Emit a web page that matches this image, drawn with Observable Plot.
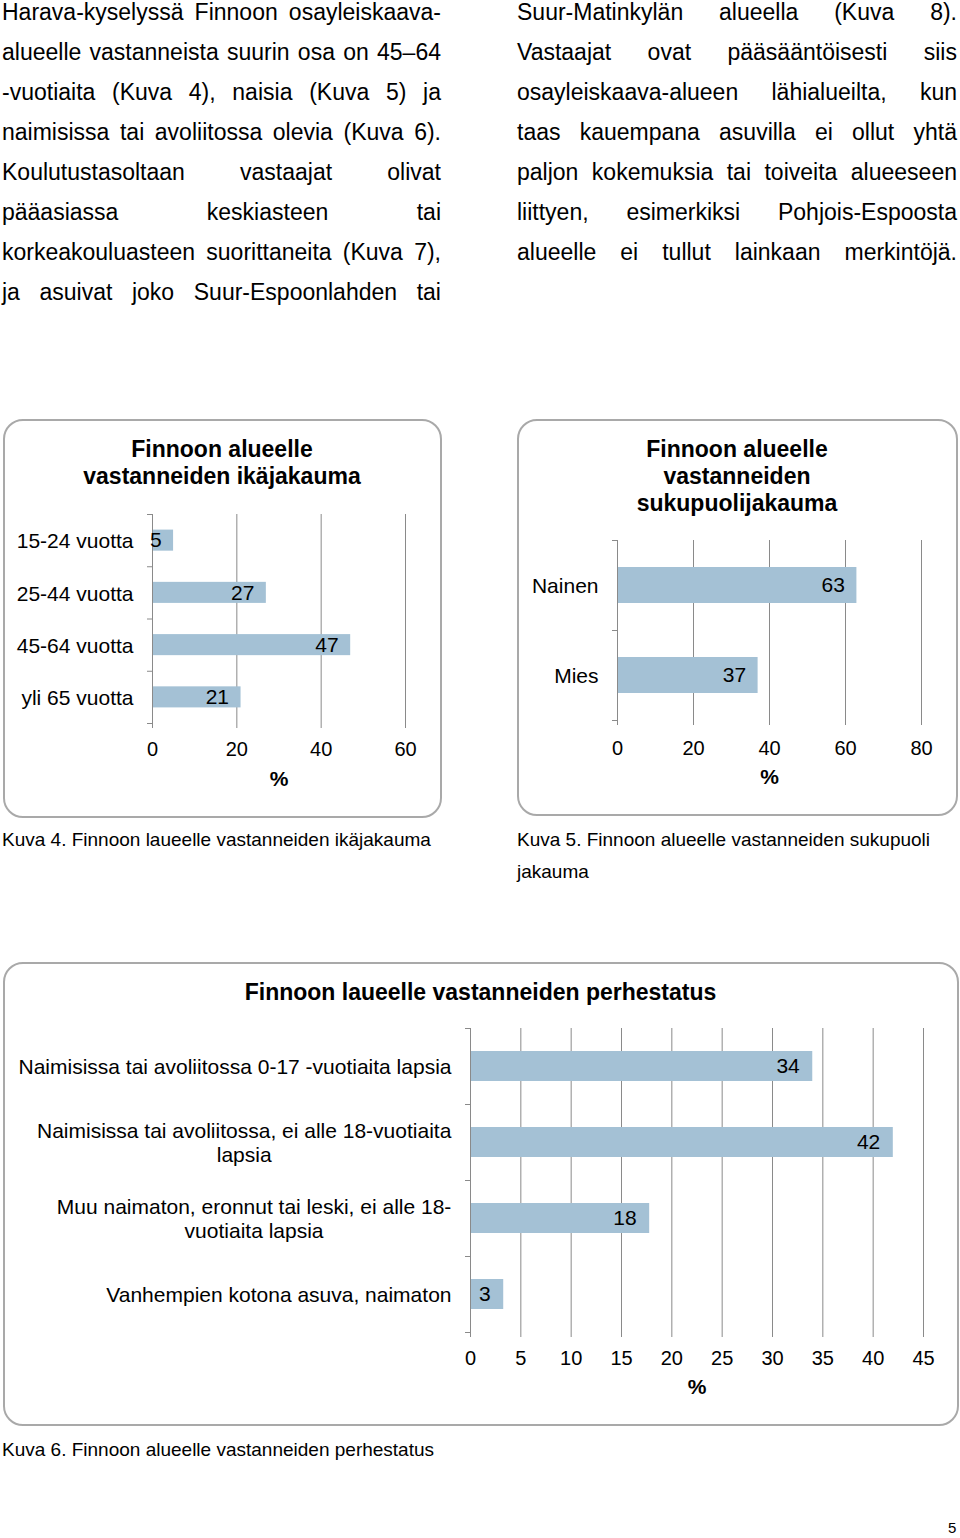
<!DOCTYPE html>
<html><head><meta charset="utf-8">
<script src="https://cdn.jsdelivr.net/npm/d3@7"></script>
<script src="https://cdn.jsdelivr.net/npm/@observablehq/plot@0.6"></script>
<style>
body{margin:0;background:#fff;font-family:"Liberation Sans",Arial,sans-serif;color:#000;}
#page{position:relative;width:960px;height:1538px;overflow:hidden;background:#fff;}
.line{position:absolute;font-size:23px;white-space:nowrap;height:26px;line-height:26px;display:flex;justify-content:space-between;}
.box{position:absolute;border:2px solid #a9a9a9;border-radius:20px;box-sizing:border-box;}
.ctitle{position:absolute;font-weight:bold;font-size:23px;text-align:center;line-height:27px;}
.cap{position:absolute;font-size:19px;line-height:32px;white-space:nowrap;}
.chart{position:absolute;}
.pnum{position:absolute;font-size:15px;line-height:18px;}
</style></head>
<body><div id="page"></div>
<script>
// ---- text content ----
const leftLines = [
  "Harava-kyselyssä Finnoon osayleiskaava-",
  "alueelle vastanneista suurin osa on 45–64",
  "-vuotiaita (Kuva 4), naisia (Kuva 5) ja",
  "naimisissa tai avoliitossa olevia (Kuva 6).",
  "Koulutustasoltaan vastaajat olivat",
  "pääasiassa keskiasteen tai",
  "korkeakouluasteen suorittaneita (Kuva 7),",
  "ja asuivat joko Suur-Espoonlahden tai"
];
const rightLines = [
  "Suur-Matinkylän alueella (Kuva 8).",
  "Vastaajat ovat pääsääntöisesti siis",
  "osayleiskaava-alueen lähialueilta, kun",
  "taas kauempana asuvilla ei ollut yhtä",
  "paljon kokemuksia tai toiveita alueeseen",
  "liittyen, esimerkiksi Pohjois-Espoosta",
  "alueelle ei tullut lainkaan merkintöjä."
];

// ---- chart data ----
const ageTitle = "Finnoon alueelle<br>vastanneiden ikäjakauma";
const ageCats = ["15-24 vuotta", "25-44 vuotta", "45-64 vuotta", "yli 65 vuotta"];
const ageVals = [5, 27, 47, 21];
const ageTicks = [0, 20, 40, 60];
const ageCaption = "Kuva 4. Finnoon laueelle vastanneiden ikäjakauma";

const sexTitle = "Finnoon alueelle<br>vastanneiden<br>sukupuolijakauma";
const sexCats = ["Nainen", "Mies"];
const sexVals = [63, 37];
const sexTicks = [0, 20, 40, 60, 80];
const sexCaption = "Kuva 5. Finnoon alueelle vastanneiden sukupuoli<br>jakauma";

const famTitle = "Finnoon laueelle vastanneiden perhestatus";
const famCats = [
  "Naimisissa tai avoliitossa 0-17 -vuotiaita lapsia",
  "Naimisissa tai avoliitossa, ei alle 18-vuotiaita\nlapsia",
  "Muu naimaton, eronnut tai leski, ei alle 18-\nvuotiaita lapsia",
  "Vanhempien kotona asuva, naimaton"
];
const famVals = [34, 42, 17.8, 3.3];
const famTicks = [0, 5, 10, 15, 20, 25, 30, 35, 40, 45];
const famCaption = "Kuva 6. Finnoon alueelle vastanneiden perhestatus";

const axisTitle = "%";
const pageNumber = "5";

// ---- page ----
const page = document.getElementById("page");
function el(cls, css, html) {
  const d = document.createElement("div");
  d.className = cls;
  Object.assign(d.style, css);
  if (html != null) d.innerHTML = html;
  page.appendChild(d);
  return d;
}
function justifiedLines(lines, left, width) {
  lines.forEach((ln, i) => {
    const d = el("line", {left: left + "px", top: (i * 40 - 1) + "px", width: width + "px"});
    ln.split(" ").forEach(w => { const s = document.createElement("span"); s.textContent = w; d.appendChild(s); });
  });
}
justifiedLines(leftLines, 2, 439);
justifiedLines(rightLines, 517, 440);

el("box", {left: "3px", top: "419px", width: "439px", height: "399px"});
el("box", {left: "517px", top: "419px", width: "441px", height: "397px"});
el("box", {left: "3px", top: "962px", width: "956px", height: "464px"});

el("ctitle", {left: "3px", top: "436px", width: "438px"}, ageTitle);
el("ctitle", {left: "517px", top: "436px", width: "440px"}, sexTitle);
el("ctitle", {left: "3px", top: "979px", width: "955px"}, famTitle);

el("cap", {left: "2px", top: "824px"}, ageCaption);
el("cap", {left: "517px", top: "824px"}, sexCaption);
el("cap", {left: "2px", top: "1434px"}, famCaption);
el("pnum", {left: "948px", top: "1519px"}, pageNumber);

const GRID = "#8a8a8a";
const BAR = "#a4c1d5";

function hbar(o) {
  const n = o.cats.length;
  const data = o.cats.map((c, i) => ({c, v: o.vals[i], i}));
  return Plot.plot({
    width: o.width, height: o.height,
    marginLeft: o.ml, marginRight: o.mr, marginTop: o.mt, marginBottom: o.mb,
    style: {background: "none", fontFamily: "'Liberation Sans', Arial, sans-serif", fontSize: "20px", color: "#000", overflow: "visible"},
    x: {type: "linear", domain: [0, o.xMax]},
    y: {type: "linear", domain: [0, n], reverse: true},
    marks: [
      Plot.gridX(o.ticks, {stroke: GRID, strokeOpacity: 1, strokeWidth: 1}),
      Plot.axisX({ticks: o.ticks, tickSize: 5, tickPadding: o.xPad, stroke: GRID, strokeOpacity: 1, fontSize: 20, label: null, tickFormat: d => String(d)}),
      Plot.rectX(data, {x1: 0, x2: "v", y1: "i", y2: d => d.i + 1, insetTop: o.inset, insetBottom: o.inset, fill: BAR}),
      Plot.ruleX([0], {stroke: GRID, strokeWidth: 1}),
      Plot.axisY({ticks: d3.range(n + 1), tickSize: 5, tickFormat: () => "", stroke: GRID, strokeOpacity: 1, label: null}),
      Plot.axisY({ticks: d3.range(n).map(i => i + 0.5), tickSize: 0, tickPadding: 19, tickFormat: t => o.cats[Math.floor(t)], fontSize: 21, lineHeight: 1.15, label: null}),
      Plot.text(data, {x: "v", y: d => d.i + 0.5, text: d => String(Math.round(d.v)), textAnchor: "end", dx: o.labelDx, fontSize: 21, fill: "#000"}),
      Plot.text([axisTitle], {frameAnchor: "bottom", lineAnchor: "middle", dy: o.pctDy, fontWeight: "bold", fontSize: 21, fill: "#000"})
    ]
  });
}

function place(svg, left, top) {
  const wrap = el("chart", {left: left + "px", top: top + "px"});
  wrap.appendChild(svg);
  return svg;
}

place(hbar({cats: ageCats, vals: ageVals, ticks: ageTicks, xMax: 60,
  width: 445, height: 300, ml: 152, mr: 40, mt: 14, mb: 77, inset: 15.6, xPad: 13, labelDx: -12, pctDy: 56}), 0, 500);

place(hbar({cats: sexCats, vals: sexVals, ticks: sexTicks, xMax: 80,
  width: 440, height: 270, ml: 100, mr: 36, mt: 10, mb: 80, inset: 27, xPad: 15, labelDx: -12, pctDy: 57}), 517, 530);

const svg3 = place(hbar({cats: famCats, vals: famVals, ticks: famTicks, xMax: 45,
  width: 955, height: 400, ml: 467, mr: 35, mt: 8, mb: 88, inset: 23, xPad: 13, labelDx: -13, pctDy: 55}), 3, 1020);

// centre each line of wrapped category labels, as in the original
svg3.querySelectorAll("text").forEach(t => {
  const ts = t.querySelectorAll("tspan");
  if (ts.length > 1) {
    const w = t.getBBox().width;
    const ax = parseFloat(ts[0].getAttribute("x") ?? t.getAttribute("x") ?? 0) || 0;
    t.setAttribute("text-anchor", "middle");
    ts.forEach(s => s.setAttribute("x", ax - w / 2));
  }
});
</script>
</body></html>
